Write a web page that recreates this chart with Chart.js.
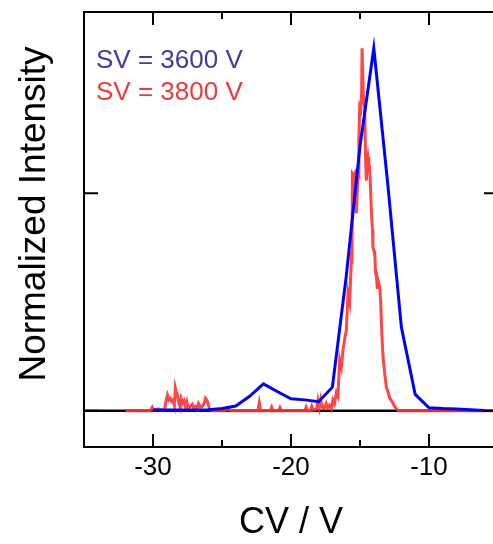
<!DOCTYPE html>
<html>
<head>
<meta charset="utf-8">
<script src="https://cdn.jsdelivr.net/npm/chart.js@4/dist/chart.umd.min.js"></script>
<style>
  html, body { margin: 0; padding: 0; background: #fff; overflow: hidden; }
  #wrap { position: relative; width: 520px; height: 544px; }
</style>
</head>
<body>
<div id="wrap"><canvas id="cvChart"></canvas></div>
<script>
// SV = 3600 V (coarse scan, 1 V steps)
const blueX = [-30, -29, -28, -27, -26, -25, -24, -23, -22, -21, -20, -19, -18, -17, -16, -15, -14, -13, -12, -11, -10, -9, -8, -7, -6]
const blueY = [0.002, 0.002, 0.002, 0.002, 0.003, 0.006, 0.013, 0.04, 0.074, 0.053, 0.033, 0.03, 0.025, 0.065, 0.37, 0.73, 1.0, 0.63, 0.23, 0.045, 0.008, 0.006, 0.005, 0.003, 0.001]

// SV = 3800 V (fine scan, noisy)
const redX = [-32, -30.2, -30.05, -29.95, -29.6, -29.4, -29.15, -29.05, -28.95, -28.85, -28.75, -28.65, -28.55, -28.45, -28.38, -28.3, -28.22, -28.12, -28.02, -27.95,
  -27.85, -27.75, -27.65, -27.55, -27.45, -27.3, -27.15, -27.05, -26.9, -26.8, -26.7, -26.55, -26.42, -26.3, -26.2, -26.1, -26.0, -25.9, -25.75, -25.0,
  -24.9, -24.8, -24.5, -24.4, -22.4, -22.3, -22.2, -21.5, -21.4, -21.3, -20.9, -20.8, -20.7, -19.0, -18.9, -18.8, -18.6, -18.5, -18.4, -18.15,
  -18.05, -17.95, -17.85, -17.75, -17.6, -17.45, -17.35, -17.2, -17.08, -16.96, -16.85, -16.71, -16.6, -16.47, -16.35, -16.23, -16.1, -15.99, -15.87, -15.75,
  -15.62, -15.58, -15.55, -15.45, -15.38, -15.32, -15.26, -15.2, -15.14, -15.08, -15.02, -14.95, -14.88, -14.85, -14.8, -14.75, -14.66, -14.6, -14.54, -14.48,
  -14.42, -14.36, -14.3, -14.22, -14.17, -14.1, -14.06, -13.98, -13.93, -13.87, -13.81, -13.75, -13.7, -13.64, -13.57, -13.5, -13.45, -13.4, -13.33, -13.2,
  -13.09, -12.95, -12.85, -12.72, -12.6, -12.49, -12.35, -12.25, -5]
const redY = [0, 0, 0.01, 0.002, 0.005, 0.001, 0.004, 0.028, 0.043, 0.03, 0.034, 0.026, 0.03, 0.015, 0.063, 0.05, 0.043, 0.02, 0.009, 0.033,
  0.022, 0.028, 0.012, 0.025, 0.006, 0.012, 0.018, 0.008, 0.012, 0.006, 0.02, 0.01, 0.012, 0.02, 0.035, 0.03, 0.018, 0.004, 0, 0,
  0.004, 0, 0.006, 0, 0, 0.022, 0, 0, 0.01, 0, 0, 0.009, 0, 0, 0.01, 0, 0, 0.012, 0.002, 0.004,
  0.028, 0.008, 0.03, 0.01, 0.006, 0.02, 0.008, 0.015, 0.006, 0.03, 0.02, 0.05, 0.04, 0.14, 0.12, 0.167, 0.2, 0.222, 0.324, 0.3,
  0.423, 0.42, 0.655, 0.65, 0.655, 0.56, 0.545, 0.6, 0.644, 0.75, 0.837, 0.83, 0.88, 1.0, 1.0, 0.86, 0.837, 0.7, 0.635, 0.68,
  0.699, 0.68, 0.672, 0.6, 0.545, 0.5, 0.451, 0.44, 0.43, 0.38, 0.37, 0.34, 0.36, 0.35, 0.34, 0.3, 0.241, 0.2, 0.148, 0.1,
  0.065, 0.05, 0.035, 0.029, 0.02, 0.012, 0.005, 0, 0]

// zero line
const zeroX = [-35, -5]
const zeroY = [0, 0]

const xTickLabels = [-30, -20, -10]
const xMinorTicks = [-25, -15]
const yTicks = [0, 0.6]
const seriesNames = ["SV = 3600 V", "SV = 3800 V"]

const FONT = "'Liberation Sans', Arial, sans-serif"

const toPoints = (xs, ys) => xs.map((x, i) => ({ x: x, y: ys[i] }))

// frame, inward ticks, y title and the text legend
const framePlugin = {
  id: "frame",
  afterDatasetsDraw(chart) {
    const { ctx, chartArea: a, scales } = chart
    const xs = scales.x
    const ys = scales.y
    ctx.save()
    ctx.strokeStyle = "#000"
    ctx.lineWidth = 2
    ctx.strokeRect(a.left, a.top, a.right - a.left, a.bottom - a.top)
    ctx.beginPath()
    xTickLabels.forEach((v) => {
      const px = xs.getPixelForValue(v)
      ctx.moveTo(px, a.bottom); ctx.lineTo(px, a.bottom - 13)
      ctx.moveTo(px, a.top); ctx.lineTo(px, a.top + 13)
    })
    xMinorTicks.forEach((v) => {
      const px = xs.getPixelForValue(v)
      ctx.moveTo(px, a.bottom); ctx.lineTo(px, a.bottom - 7)
      ctx.moveTo(px, a.top); ctx.lineTo(px, a.top + 7)
    })
    yTicks.forEach((v) => {
      const py = ys.getPixelForValue(v)
      ctx.moveTo(a.left, py); ctx.lineTo(a.left + 14, py)
      ctx.moveTo(a.right, py); ctx.lineTo(a.right - 14, py)
    })
    ctx.stroke()

    // y axis title
    ctx.fillStyle = "#000"
    ctx.font = "37px " + FONT
    ctx.textAlign = "center"
    ctx.textBaseline = "middle"
    ctx.translate(35, 214)
    ctx.rotate(-Math.PI / 2)
    ctx.fillText("Normalized Intensity", 0, 0)
    ctx.restore()

    // legend
    ctx.save()
    ctx.font = "26px " + FONT
    ctx.textAlign = "left"
    ctx.textBaseline = "middle"
    ctx.fillStyle = "#3d3d9e"
    ctx.fillText(seriesNames[0], a.left + 12, 61)
    ctx.fillStyle = "#ee3a3a"
    ctx.fillText(seriesNames[1], a.left + 12, 93)
    ctx.restore()
  },
}

const ctx = document.getElementById("cvChart")

new Chart(ctx, {
  type: "line",
  data: {
    datasets: [
      {
        label: seriesNames[0],
        data: toPoints(blueX, blueY),
        borderColor: "#0000ff",
        borderWidth: 3,
        pointRadius: 0,
        order: 0,
      },
      {
        label: seriesNames[1],
        data: toPoints(redX, redY),
        borderColor: "rgba(255, 50, 50, 0.9)",
        borderWidth: 3,
        pointRadius: 0,
        order: 1,
      },
      {
        label: "zero",
        data: toPoints(zeroX, zeroY),
        borderColor: "#000",
        borderWidth: 2.5,
        pointRadius: 0,
        order: 2,
      },
    ],
  },
  options: {
    responsive: true,
    maintainAspectRatio: false,
    animation: false,
    layout: { padding: { top: 12, right: 22, bottom: 0, left: 0 } },
    scales: {
      x: {
        type: "linear",
        min: -35,
        max: -5,
        grid: { display: false },
        border: { display: false },
        afterBuildTicks: (scale) => {
          scale.ticks = xTickLabels.map((v) => ({ value: v }))
        },
        afterFit: (scale) => {
          scale.height = 97
        },
        ticks: {
          color: "#000",
          font: { family: FONT, size: 26 },
          padding: -3,
          maxRotation: 0,
          autoSkip: false,
        },
        title: {
          display: true,
          text: "CV / V",
          color: "#000",
          font: { family: FONT, size: 36 },
          padding: { top: 0, bottom: -1 },
        },
      },
      y: {
        type: "linear",
        min: -0.1,
        max: 1.1,
        grid: { display: false },
        border: { display: false },
        ticks: { display: false },
        afterFit: (scale) => {
          scale.width = 84
        },
      },
    },
    plugins: {
      legend: { display: false },
      tooltip: { enabled: false },
    },
  },
  plugins: [framePlugin],
})
</script>
</body>
</html>
